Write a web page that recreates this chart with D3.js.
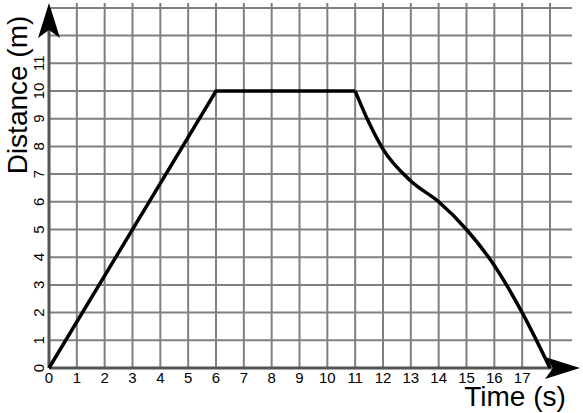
<!DOCTYPE html>
<html><head><meta charset="utf-8">
<script src="https://cdn.jsdelivr.net/npm/d3@7"></script>
<style>body{margin:0;background:#fff}</style>
</head><body><div id="chart"></div>
<script>
const xTicks = d3.range(0, 18);
const yTicks = d3.range(0, 12);
const lineTimes = [0, 6, 11];
const lineDist = [0, 10, 10];
const curveTimes = [11, 11.5, 12, 13, 14, 15, 16, 17, 18];
const curveDist = [10, 8.85, 7.9, 6.75, 6.0, 5.0, 3.7, 2.0, 0];

const svg = d3.select("#chart").append("svg")
  .attr("width", 583).attr("height", 413);

const x = d3.scaleLinear().domain([0, 18]).range([49, 550]);
const y = d3.scaleLinear().domain([0, 10]).range([368, 91]);
const font = "Liberation Sans, Arial, sans-serif";

const grid = svg.append("g").attr("stroke", "#808080").attr("stroke-width", 2);
d3.range(1, 19).forEach(t => grid.append("line")
  .attr("x1", x(t)).attr("x2", x(t)).attr("y1", y(0)).attr("y2", 3));
d3.range(1, 14).forEach(d => grid.append("line")
  .attr("x1", x(0)).attr("x2", 572).attr("y1", y(d)).attr("y2", y(d)));

// axes
svg.append("line").attr("x1", x(0)).attr("x2", 565).attr("y1", y(0)).attr("y2", y(0))
  .attr("stroke", "#555").attr("stroke-width", 3);
svg.append("line").attr("x1", x(0)).attr("x2", x(0)).attr("y1", y(0)).attr("y2", 12)
  .attr("stroke", "#555").attr("stroke-width", 3);
svg.append("path").attr("d", `M${x(0)},3 L${x(0)+11},38 L${x(0)},30 L${x(0)-11},38 Z`);
svg.append("path").attr("d", `M580,${y(0)} L545,${y(0)-11} L553,${y(0)} L545,${y(0)+11} Z`);

// tick labels
svg.append("g").selectAll("text").data(xTicks).join("text")
  .attr("x", d => x(d)).attr("y", y(0) + 15)
  .attr("text-anchor", "middle").attr("font-family", font)
  .attr("font-size", 15).text(d => d);
svg.append("g").selectAll("text").data(yTicks).join("text")
  .attr("transform", d => `translate(${x(0) - 5},${y(d)}) rotate(-90)`)
  .attr("text-anchor", "middle").attr("font-family", font)
  .attr("font-size", 15).text(d => d);

svg.append("text").attr("transform", "translate(27,95) rotate(-90)")
  .attr("text-anchor", "middle").attr("font-family", font)
  .attr("font-size", 28).text("Distance (m)");
svg.append("text").attr("x", 515).attr("y", 406)
  .attr("text-anchor", "middle").attr("font-family", font)
  .attr("font-size", 28).text("Time (s)");

const line = d3.line().x(d => x(d[0])).y(d => y(d[1]));
svg.append("path").datum(d3.zip(lineTimes, lineDist))
  .attr("d", line).attr("fill", "none").attr("stroke", "#000").attr("stroke-width", 3.5);
svg.append("path").datum(d3.zip(curveTimes, curveDist))
  .attr("d", line.curve(d3.curveMonotoneX))
  .attr("fill", "none").attr("stroke", "#000").attr("stroke-width", 3.5);
</script></body></html>
